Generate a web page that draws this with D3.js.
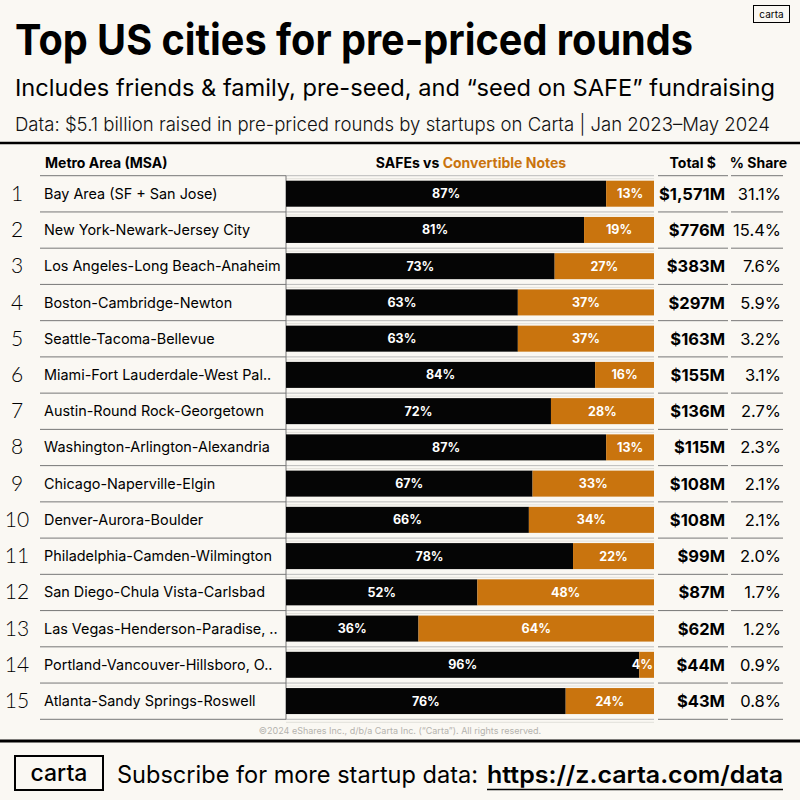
<!DOCTYPE html>
<html>
<head>
<meta charset="utf-8">
<script src="https://cdn.jsdelivr.net/npm/d3@7"></script>
<style>
  html, body { margin: 0; padding: 0; background: #faf8f3; }
  svg { display: block; font-family: Inter, "Noto Sans", sans-serif; }
</style>
</head>
<body>
<svg id="chart" width="800" height="800"></svg>
<script>
// ── Data ──────────────────────────────────────────────────────────────────────

const metros = [
  'Bay Area (SF + San Jose)',
  'New York-Newark-Jersey City',
  'Los Angeles-Long Beach-Anaheim',
  'Boston-Cambridge-Newton',
  'Seattle-Tacoma-Bellevue',
  'Miami-Fort Lauderdale-West Pal..',
  'Austin-Round Rock-Georgetown',
  'Washington-Arlington-Alexandria',
  'Chicago-Naperville-Elgin',
  'Denver-Aurora-Boulder',
  'Philadelphia-Camden-Wilmington',
  'San Diego-Chula Vista-Carlsbad',
  'Las Vegas-Henderson-Paradise, ..',
  'Portland-Vancouver-Hillsboro, O..',
  'Atlanta-Sandy Springs-Roswell'
];
const safePct  = [87, 81, 73, 63, 63, 84, 72, 87, 67, 66, 78, 52, 36, 96, 76];
const notePct  = [13, 19, 27, 37, 37, 16, 28, 13, 33, 34, 22, 48, 64, 4, 24];
const totalM   = [1571, 776, 383, 297, 163, 155, 136, 115, 108, 108, 99, 87, 62, 44, 43];
const sharePct = [31.1, 15.4, 7.6, 5.9, 3.2, 3.1, 2.7, 2.3, 2.1, 2.1, 2.0, 1.7, 1.2, 0.9, 0.8];

// ── Setup ─────────────────────────────────────────────────────────────────────

const BLACK  = '#050505';
const ORANGE = '#c9740e';
const svg = d3.select('#chart');

const x = d3.scaleLinear().domain([0, 100]).range([286, 654]);
const y = d3.scaleBand().domain(d3.range(metros.length)).range([175.7, 719.3]);
const fmtM = d3.format(',');

// Title block
svg.append('text').attr('x', 15).attr('y', 55)
  .attr('font-size', 43).attr('font-weight', 700).attr('fill', '#000')
  .attr('textLength', 678).attr('lengthAdjust', 'spacingAndGlyphs')
  .text('Top US cities for pre-priced rounds');
svg.append('text').attr('x', 15).attr('y', 96)
  .attr('font-size', 23.5).attr('font-weight', 400).attr('fill', '#000')
  .attr('textLength', 760).attr('lengthAdjust', 'spacingAndGlyphs')
  .text('Includes friends & family, pre-seed, and \u201cseed on SAFE\u201d fundraising');
svg.append('text').attr('x', 15).attr('y', 131)
  .attr('font-size', 19).attr('font-weight', 300).attr('fill', '#111')
  .attr('textLength', 755).attr('lengthAdjust', 'spacingAndGlyphs')
  .text('Data: $5.1 billion raised in pre-priced rounds by startups on Carta | Jan 2023\u2013May 2024');

// small corner logo
svg.append('rect').attr('x', 753.5).attr('y', 5.5).attr('width', 36).attr('height', 17)
  .attr('fill', 'none').attr('stroke', '#000').attr('stroke-width', 1);
svg.append('text').attr('x', 771.5).attr('y', 18).attr('text-anchor', 'middle')
  .attr('font-size', 10).text('carta');

// heavy rules
svg.append('line').attr('x1', 0).attr('x2', 800).attr('y1', 143).attr('y2', 143)
  .attr('stroke', '#000').attr('stroke-width', 2.5);
svg.append('line').attr('x1', 0).attr('x2', 800).attr('y1', 741).attr('y2', 741)
  .attr('stroke', '#000').attr('stroke-width', 3);

// ── Column headers ────────────────────────────────────────────────────────────

const head = svg.append('g').attr('font-size', 14).attr('font-weight', 700).attr('fill', '#000');
head.append('text').attr('x', 45).attr('y', 168).text('Metro Area (MSA)');
const mid = head.append('text').attr('x', 471).attr('y', 168).attr('text-anchor', 'middle');
mid.append('tspan').text('SAFEs vs ');
mid.append('tspan').attr('fill', ORANGE).text('Convertible Notes');
head.append('text').attr('x', 716).attr('y', 168).attr('text-anchor', 'end').text('Total $');
head.append('text').attr('x', 787).attr('y', 168).attr('text-anchor', 'end').text('% Share');

// ── Grid lines ────────────────────────────────────────────────────────────────

const bounds = d3.range(metros.length + 1).map(i => y.range()[0] + i * y.step());
const grid = svg.append('g');
const segs = [[40, 286, '#777'], [286, 654, '#bbb'], [658, 728, '#777'], [731, 783, '#777']];
bounds.forEach(b => {
  segs.forEach(([a, z, c]) => {
    grid.append('line').attr('x1', a).attr('x2', z).attr('y1', b).attr('y2', b)
      .attr('stroke', c).attr('stroke-width', 1);
  });
  // faint second line giving the double-rule look
  grid.append('line').attr('x1', 286).attr('x2', 654).attr('y1', b + 3).attr('y2', b + 3)
    .attr('stroke', '#e2e0da').attr('stroke-width', 1);
});
grid.append('line').attr('x1', 286).attr('x2', 286)
  .attr('y1', bounds[0]).attr('y2', bounds[bounds.length - 1])
  .attr('stroke', '#777').attr('stroke-width', 1);

// ── Rows ──────────────────────────────────────────────────────────────────────

const rows = svg.append('g').selectAll('g.row')
  .data(metros.map((name, i) => ({ i, name, safe: safePct[i], note: notePct[i],
    total: totalM[i], share: sharePct[i] })))
  .join('g').attr('class', 'row')
  .attr('transform', d => `translate(0,${y(d.i)})`);

const H = y.step();
const barTop = 5, barH = 26;

rows.append('text').attr('x', 17).attr('y', H / 2 + 7).attr('text-anchor', 'middle')
  .attr('font-family', 'Lato, Inter, sans-serif')
  .attr('font-size', 21).attr('font-weight', 300).attr('fill', '#000')
  .text(d => d.i + 1);

rows.append('text').attr('x', 44).attr('y', H / 2 + 5)
  .attr('font-size', 14.4).attr('fill', '#000')
  .text(d => d.name);

rows.append('rect').attr('x', x(0)).attr('y', barTop)
  .attr('width', d => x(d.safe) - x(0)).attr('height', barH).attr('fill', BLACK);
rows.append('rect').attr('x', d => x(d.safe)).attr('y', barTop)
  .attr('width', d => x(100) - x(d.safe)).attr('height', barH).attr('fill', ORANGE);

const lbl = rows.append('g').attr('font-size', 12.5).attr('font-weight', 700).attr('fill', '#fff');
lbl.append('text').attr('text-anchor', 'middle').attr('y', barTop + barH / 2 + 4.5)
  .attr('x', d => (x(0) + x(d.safe)) / 2).text(d => d.safe + '%');
lbl.append('text').attr('y', barTop + barH / 2 + 4.5)
  .attr('text-anchor', d => (x(100) - x(d.safe)) < 30 ? 'end' : 'middle')
  .attr('x', d => (x(100) - x(d.safe)) < 30 ? x(100) - 1 : (x(d.safe) + x(100)) / 2)
  .text(d => d.note + '%');

rows.append('text').attr('x', 725).attr('y', H / 2 + 6).attr('text-anchor', 'end')
  .attr('font-size', 16.5).attr('font-weight', 700).attr('fill', '#000')
  .text(d => '$' + fmtM(d.total) + 'M');
rows.append('text').attr('x', 781).attr('y', H / 2 + 6).attr('text-anchor', 'end')
  .attr('font-size', 16.5).attr('font-weight', 400).attr('fill', '#000')
  .text(d => d.share.toFixed(1) + '%');

// ── Footer ────────────────────────────────────────────────────────────────────

svg.append('text').attr('x', 400).attr('y', 734).attr('text-anchor', 'middle')
  .attr('font-size', 9).attr('fill', '#b5b3ae')
  .text('\u00a92024 eShares Inc., d/b/a Carta Inc. (\u201cCarta\u201d). All rights reserved.');

svg.append('rect').attr('x', 15).attr('y', 756).attr('width', 88).attr('height', 34)
  .attr('fill', 'none').attr('stroke', '#000').attr('stroke-width', 2);
svg.append('text').attr('x', 59).attr('y', 781).attr('text-anchor', 'middle')
  .attr('font-size', 23).attr('font-weight', 500).text('carta');

svg.append('text').attr('x', 117).attr('y', 783)
  .attr('font-size', 24).attr('font-weight', 400).attr('fill', '#000')
  .attr('textLength', 361).attr('lengthAdjust', 'spacingAndGlyphs')
  .text('Subscribe for more startup data:');
svg.append('text').attr('x', 487).attr('y', 783)
  .attr('font-size', 24).attr('font-weight', 600).attr('fill', '#000')
  .attr('textLength', 296).attr('lengthAdjust', 'spacingAndGlyphs')
  .text('https://z.carta.com/data');
svg.append('line').attr('x1', 487).attr('x2', 783).attr('y1', 789.5).attr('y2', 789.5)
  .attr('stroke', '#000').attr('stroke-width', 1.5);
</script>
</body>
</html>
